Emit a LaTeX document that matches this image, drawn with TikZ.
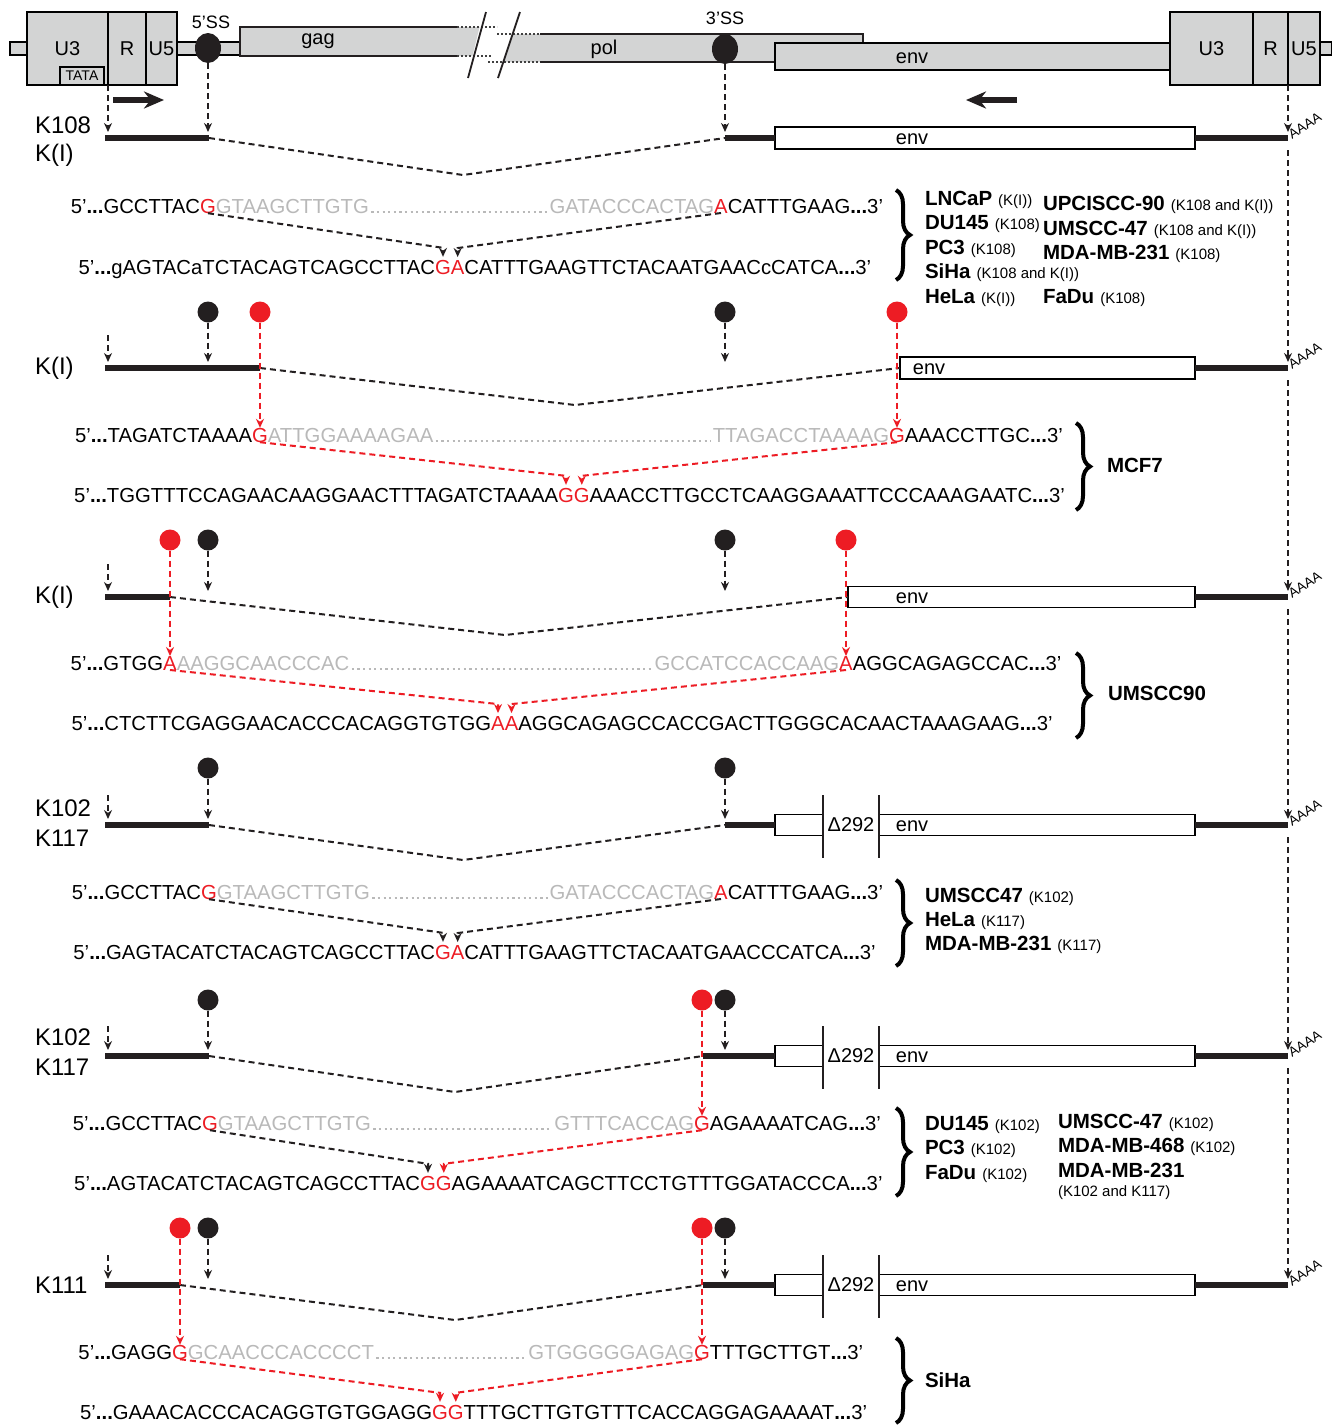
\documentclass[tikz,border=0pt]{standalone}
\usepackage{fontspec}
\setmainfont{Liberation Sans}
\usetikzlibrary{arrows.meta,calc,decorations.pathreplacing,shapes.geometric}
\definecolor{myred}{RGB}{237,28,36}
\definecolor{boxgray}{RGB}{211,212,212}
\definecolor{seqgray}{RGB}{185,185,185}
\definecolor{inkblack}{RGB}{35,31,32}
\newcommand{\myfs}[1]{\fontsize{#1}{#1}\selectfont}
\newcommand{\cellname}[2]{{\myfs{20.5}\bfseries #1}\hspace{6pt}{\myfs{15}(#2)}}
\tikzset{
  seqtxt/.style={font=\myfs{20.3}},
  redtxt/.style={text=myred},
  graytxt/.style={text=seqgray},
  seqdots/.style={draw=seqgray, line width=2.2pt, dash pattern=on 2.2pt off 3.4pt},
  gbox/.style={draw=black, line width=1.8pt, fill=boxgray, font=\myfs{20}},
  wbox/.style={draw=black, line width=1.8pt, fill=white},
  lbl/.style={font=\myfs{20}},
  klbl/.style={font=\myfs{24}, anchor=west},
  thickln/.style={line width=6.5pt, draw=inkblack},
  intron/.style={line width=2pt, draw=inkblack, dash pattern=on 6pt off 4pt},
  darr/.style={line width=2pt, draw=inkblack, dash pattern=on 6pt off 4pt, -{Stealth[length=9pt,width=8pt]}},
  rdarr/.style={darr, draw=myred},
  pinblk/.style={circle, fill=inkblack, minimum size=21pt},
  pinred/.style={circle, fill=myred, minimum size=21pt},
  ssdot/.style={ellipse, fill=inkblack, minimum width=26pt, minimum height=30pt},
  bigarr/.style={line width=5.5pt, draw=inkblack, -{Stealth[length=20pt,width=17pt]}},
  brc/.style={decorate, decoration={brace, amplitude=14pt}, line width=4pt},
  aaaa/.style={font=\myfs{13.5}, rotate=32, anchor=base west},
  dline/.style={line width=1.8pt, draw=inkblack},
  cell/.style={anchor=base west},
  dotedge/.style={line width=1.6pt, draw=black!75, dash pattern=on 1.6pt off 2.4pt}
}
% sequence building blocks
\newcommand{\sqleft}[6]{%
  \node[seqtxt,redtxt,anchor=base] (#1r1) at (#2,#3) {#5};
  \node[seqtxt,anchor=base east] (#1k1) at (#1r1.base west) {#4};
  \node[seqtxt,graytxt,anchor=base west] (#1g1) at (#1r1.base east) {#6};}
\newcommand{\sqright}[6]{%
  \node[seqtxt,redtxt,anchor=base] (#1r2) at (#2,#3) {#5};
  \node[seqtxt,graytxt,anchor=base east] (#1g2) at (#1r2.base west) {#4};
  \node[seqtxt,anchor=base west] (#1k2) at (#1r2.base east) {#6};
  \draw[seqdots] ($(#1g1.base east)+(2.5,-1.3)$) -- ($(#1g2.base west)+(-2,-1.3)$);}
\newcommand{\sqjoin}[7]{%
  \node[seqtxt,redtxt,anchor=base] (#1p) at (#2,#3) {#5};
  \node[seqtxt,redtxt,anchor=base west] (#1q) at (#1p.base east) {#6};
  \node[seqtxt,anchor=base east] (#1L) at (#1p.base west) {#4};
  \node[seqtxt,anchor=base west] (#1R) at (#1q.base east) {#7};}
% junction connector: diagonal dashed line ending in a short vertical arrow
\newcommand{\junc}[3]{%
  \draw[#1, shorten >=3pt] (#2.south) -- ($(#3.north)+(0,-12)$) -- (#3.north);}
\newcommand{\dd}{\textbf{...}}

\begin{document}
\begin{tikzpicture}[x=1pt,y=-1pt, every node/.style={inner sep=0pt, outer sep=0pt}]
\fill[white] (0,0) rectangle (1339,1425);
\useasboundingbox (0,0) rectangle (1339,1425);

% ================= genome =================
\node[gbox, minimum width=17pt, minimum height=13pt] (tbl) at (18.5,48.5) {};
\node[gbox, minimum width=63pt, minimum height=13pt] (tbm) at (208.5,48.5) {};
\node[gbox, minimum width=11pt, minimum height=13pt] (tbr) at (1326,48.5) {};
% gag
\coordinate (gagA) at (240,27); \coordinate (gagB) at (479.6,27);
\coordinate (gagC) at (472.4,56); \coordinate (gagD) at (240,56);
\fill[boxgray] (gagA) -- (gagB) -- (gagC) -- (gagD) -- cycle;
\draw[dline] (457,27) -- (gagA) -- (gagD) -- (457,56);
\draw[dotedge] (457,27) -- (497,27);
\draw[dotedge] (457,56) -- (492,56);
\node[lbl] (gagt) at (318,41) {gag};
% pol
\coordinate (polA) at (513.6,34); \coordinate (polB) at (863,34);
\coordinate (polC) at (863,62); \coordinate (polD) at (503.7,62);
\fill[boxgray] (polA) -- (polB) -- (polC) -- (polD) -- cycle;
\draw[dline] (540,34) -- (polB) -- (polC) -- (540,62);
\draw[dotedge] (497,34) -- (540,34);
\draw[dotedge] (488,62) -- (540,62);
\node[lbl] (polt) at (604,49) {pol};
% break marks
\draw[dline] (486,12) -- (468,78);
\draw[dline] (520,12) -- (498,78);
% env
\node[gbox, minimum width=395pt, minimum height=27pt] (envtop) at (972.5,56.5) {};
\node[lbl] (envtopt) at (912,58) {env};
% LTRs
\node[gbox, minimum width=81pt, minimum height=73pt] (u3a) at (67.5,48.5) {U3};
\node[gbox, minimum width=38pt, minimum height=73pt] (ra) at (127,48.5) {R};
\node[gbox, minimum width=31pt, minimum height=73pt] (u5a) at (161.5,48.5) {U5};
\node[gbox, minimum width=44pt, minimum height=18pt, font=\myfs{14}] (tata) at (82,76) {TATA};
\node[gbox, minimum width=83pt, minimum height=73pt] (u3b) at (1211.5,48.5) {U3};
\node[gbox, minimum width=35pt, minimum height=73pt] (rb) at (1270.5,48.5) {R};
\node[gbox, minimum width=32pt, minimum height=73pt] (u5b) at (1304,48.5) {U5};
% splice sites
\node[ssdot] (ss5) at (208,48) {};
\node[ssdot] (ss3) at (725,49) {};
\node[font=\myfs{18}] (ss5t) at (211,22) {5’SS};
\node[font=\myfs{18}] (ss3t) at (725,18) {3’SS};
% transcription arrows
\coordinate (ar1s) at (113,100); \coordinate (ar1e) at (164,100);
\coordinate (ar2s) at (1017,100); \coordinate (ar2e) at (966,100);
\draw[bigarr] (ar1s) -- (ar1e);
\draw[bigarr] (ar2s) -- (ar2e);

% ================= row 1 =================
\coordinate (r1a) at (105,138); \coordinate (r1b) at (209,138);
\coordinate (r1v) at (463,175); \coordinate (r1c) at (725,138);
\coordinate (r1e) at (1288,138);
\node[wbox, minimum width=420pt, minimum height=22pt] (env1) at (985,138) {};
\node[lbl] (env1t) at (912,139) {env};
\draw[thickln] (r1a) -- (r1b);
\draw[intron] (r1b) -- (r1v) -- (r1c);
\draw[thickln] (r1c) -- (env1.west);
\draw[thickln] (env1.east) -- (r1e);
\node[aaaa] (aa1) at ($(r1e)+(4,1)$) {AAAA};
\draw[darr] (u3a.south east) -- ($(u3a.south east |- r1a)+(0,-6)$);
\draw[darr] (ss5.south) -- ($(ss5 |- r1a)+(0,-6)$);
\draw[darr] (ss3.south) -- ($(ss3 |- r1a)+(0,-6)$);
\draw[darr] (rb.south east) -- ($(r1e)+(0,-6)$);
\node[klbl] (k1a) at (35,125) {K108};
\node[klbl] (k1b) at (35,155) {K(I)};

\sqleft{s1a}{208}{213}{5’\dd GCCTTAC}{G}{GTAAGCTTGTG}
\sqright{s1a}{721}{213}{GATACCCACTAG}{A}{CATTTGAAG\dd 3’}
\sqjoin{s1b}{443}{274}{5’\dd gAGTACaTCTACAGTCAGCCTTAC}{G}{A}{CATTTGAAGTTCTACAATGAACcCATCA\dd 3’}
\junc{darr}{s1ar1}{s1bp}
\junc{darr}{s1ar2}{s1bq}
\coordinate (br1a) at (896,190); \coordinate (br1b) at (896,280);
\draw[brc] (br1a) -- (br1b);
\node[cell] (c11) at (925,205) {\cellname{LNCaP}{K(I)}};
\node[cell] (c12) at (925,229) {\cellname{DU145}{K108}};
\node[cell] (c13) at (925,254) {\cellname{PC3}{K108}};
\node[cell] (c14) at (925,278) {\cellname{SiHa}{K108 and K(I)}};
\node[cell] (c15) at (925,303) {\cellname{HeLa}{K(I)}};
\node[cell] (c16) at (1043,210) {\cellname{UPCISCC-90}{K108 and K(I)}};
\node[cell] (c17) at (1043,235) {\cellname{UMSCC-47}{K108 and K(I)}};
\node[cell] (c18) at (1043,259) {\cellname{MDA-MB-231}{K108}};
\node[cell] (c19) at (1043,303) {\cellname{FaDu}{K108}};

% ================= row 2 =================
\coordinate (r2a) at (105,368); \coordinate (r2b) at (260,368);
\coordinate (r2v) at (575,405); \coordinate (r2e) at (1288,368);
\node[wbox, minimum width=295pt, minimum height=22pt] (env2) at (1047.5,368) {};
\node[lbl] (env2t) at (929,369) {env};
\draw[thickln] (r2a) -- (r2b);
\draw[intron] (r2b) -- (r2v) -- (env2.west);
\draw[thickln] (env2.east) -- (r2e);
\node[aaaa] (aa2) at ($(r2e)+(4,1)$) {AAAA};
\draw[darr] ($(r1e)+(0,12)$) -- ($(r2e)+(0,-6)$);
\draw[darr] ($(r2a)+(3,-33)$) -- ($(r2a)+(3,-6)$);
\node[klbl] (k2) at (35,368) {K(I)};
\sqleft{s2a}{260}{442}{5’\dd TAGATCTAAAA}{G}{ATTGGAAAAGAA}
\sqright{s2a}{897}{442}{TTAGACCTAAAAG}{G}{AAACCTTGC\dd 3’}
\sqjoin{s2b}{566}{502}{5’\dd TGGTTTCCAGAACAAGGAACTTTAGATCTAAAA}{G}{G}{AAACCTTGCCTCAAGGAAATTCCCAAAGAATC\dd 3’}
\node[pinblk] (p2a) at (208,312) {};
\node[pinred] (p2b) at (260,312) {};
\node[pinblk] (p2c) at (725,312) {};
\node[pinred] (p2d) at (897,312) {};
\draw[darr] (p2a.south) -- ($(p2a |- r2a)+(0,-6)$);
\draw[darr] (p2c.south) -- ($(p2c |- r2a)+(0,-6)$);
\draw[rdarr] (p2b.south) -- (s2ar1.north);
\draw[rdarr] (p2d.south) -- (s2ar2.north);
\junc{rdarr}{s2ar1}{s2bp}
\junc{rdarr}{s2ar2}{s2bq}
\coordinate (br2a) at (1076,423); \coordinate (br2b) at (1076,510);
\draw[brc] (br2a) -- (br2b);
\node[cell, font=\myfs{20.5}\bfseries] (c21) at (1107,472) {MCF7};

% ================= row 3 =================
\coordinate (r3a) at (105,597); \coordinate (r3b) at (170,597);
\coordinate (r3v) at (505,635); \coordinate (r3e) at (1288,597);
\node[wbox, minimum width=347pt, minimum height=21pt] (env3) at (1021.5,597) {};
\node[lbl] (env3t) at (912,598) {env};
\draw[thickln] (r3a) -- (r3b);
\draw[intron] (r3b) -- (r3v) -- (env3.west);
\draw[thickln] (env3.east) -- (r3e);
\node[aaaa] (aa3) at ($(r3e)+(4,1)$) {AAAA};
\draw[darr] ($(r2e)+(0,12)$) -- ($(r3e)+(0,-6)$);
\draw[darr] ($(r3a)+(3,-33)$) -- ($(r3a)+(3,-6)$);
\node[klbl] (k3) at (35,597) {K(I)};
\sqleft{s3a}{170}{670}{5’\dd GTGG}{A}{AAGGCAACCCAC}
\sqright{s3a}{846}{670}{GCCATCCACCAAG}{A}{AGGCAGAGCCAC\dd 3’}
\sqjoin{s3b}{498}{730}{5’\dd CTCTTCGAGGAACACCCACAGGTGTGG}{A}{A}{AGGCAGAGCCACCGACTTGGGCACAACTAAAGAAG\dd 3’}
\node[pinred] (p3a) at (170,540) {};
\node[pinblk] (p3b) at (208,540) {};
\node[pinblk] (p3c) at (725,540) {};
\node[pinred] (p3d) at (846,540) {};
\draw[darr] (p3b.south) -- ($(p3b |- r3a)+(0,-6)$);
\draw[darr] (p3c.south) -- ($(p3c |- r3a)+(0,-6)$);
\draw[rdarr] (p3a.south) -- (s3ar1.north);
\draw[rdarr] (p3d.south) -- (s3ar2.north);
\junc{rdarr}{s3ar1}{s3bp}
\junc{rdarr}{s3ar2}{s3bq}
\coordinate (br3a) at (1076,653); \coordinate (br3b) at (1076,738);
\draw[brc] (br3a) -- (br3b);
\node[cell, font=\myfs{20.5}\bfseries] (c31) at (1108,700) {UMSCC90};

% ================= row 4 =================
\coordinate (r4a) at (105,825); \coordinate (r4b) at (209,825);
\coordinate (r4v) at (463,860); \coordinate (r4c) at (725,825);
\coordinate (r4e) at (1288,825);
\node[wbox, minimum width=48pt, minimum height=21pt] (sb4) at (799,825) {};
\node[wbox, minimum width=316pt, minimum height=21pt] (env4) at (1037,825) {};
\node[lbl] (env4t) at (912,826) {env};
\node[lbl] (del4) at (851,825) {Δ292};
\draw[dline] ($(sb4.east)+(0,-30)$) -- ($(sb4.east)+(0,33)$);
\draw[dline] ($(env4.west)+(0,-30)$) -- ($(env4.west)+(0,33)$);
\draw[thickln] (r4a) -- (r4b);
\draw[intron] (r4b) -- (r4v) -- (r4c);
\draw[thickln] (r4c) -- (sb4.west);
\draw[thickln] (env4.east) -- (r4e);
\node[aaaa] (aa4) at ($(r4e)+(4,1)$) {AAAA};
\draw[darr] ($(r3e)+(0,12)$) -- ($(r4e)+(0,-6)$);
\draw[darr] ($(r4a)+(3,-30)$) -- ($(r4a)+(3,-6)$);
\node[klbl] (k4a) at (35,808) {K102};
\node[klbl] (k4b) at (35,838) {K117};
\sqleft{s4a}{209}{899}{5’\dd GCCTTAC}{G}{GTAAGCTTGTG}
\sqright{s4a}{721}{899}{GATACCCACTAG}{A}{CATTTGAAG\dd 3’}
\sqjoin{s4b}{443}{959}{5’\dd GAGTACATCTACAGTCAGCCTTAC}{G}{A}{CATTTGAAGTTCTACAATGAACCCATCA\dd 3’}
\node[pinblk] (p4a) at (208,768) {};
\node[pinblk] (p4b) at (725,768) {};
\draw[darr] (p4a.south) -- ($(p4a |- r4a)+(0,-6)$);
\draw[darr] (p4b.south) -- ($(p4b |- r4a)+(0,-6)$);
\junc{darr}{s4ar1}{s4bp}
\junc{darr}{s4ar2}{s4bq}
\coordinate (br4a) at (896,880); \coordinate (br4b) at (896,966);
\draw[brc] (br4a) -- (br4b);
\node[cell] (c41) at (925,902) {\cellname{UMSCC47}{K102}};
\node[cell] (c42) at (925,926) {\cellname{HeLa}{K117}};
\node[cell] (c43) at (925,950) {\cellname{MDA-MB-231}{K117}};

% ================= row 5 =================
\coordinate (r5a) at (105,1056); \coordinate (r5b) at (209,1056);
\coordinate (r5v) at (455,1092); \coordinate (r5c) at (703,1056);
\coordinate (r5e) at (1288,1056);
\node[wbox, minimum width=48pt, minimum height=21pt] (sb5) at (799,1056) {};
\node[wbox, minimum width=316pt, minimum height=21pt] (env5) at (1037,1056) {};
\node[lbl] (env5t) at (912,1057) {env};
\node[lbl] (del5) at (851,1056) {Δ292};
\draw[dline] ($(sb5.east)+(0,-30)$) -- ($(sb5.east)+(0,33)$);
\draw[dline] ($(env5.west)+(0,-30)$) -- ($(env5.west)+(0,33)$);
\draw[thickln] (r5a) -- (r5b);
\draw[intron] (r5b) -- (r5v) -- (r5c);
\draw[thickln] (r5c) -- (sb5.west);
\draw[thickln] (env5.east) -- (r5e);
\node[aaaa] (aa5) at ($(r5e)+(4,1)$) {AAAA};
\draw[darr] ($(r4e)+(0,12)$) -- ($(r5e)+(0,-6)$);
\draw[darr] ($(r5a)+(3,-30)$) -- ($(r5a)+(3,-6)$);
\node[klbl] (k5a) at (35,1037) {K102};
\node[klbl] (k5b) at (35,1067) {K117};
\sqleft{s5a}{210}{1130}{5’\dd GCCTTAC}{G}{GTAAGCTTGTG}
\sqright{s5a}{702}{1130}{GTTTCACCAG}{G}{AGAAAATCAG\dd 3’}
\sqjoin{s5b}{428}{1190}{5’\dd AGTACATCTACAGTCAGCCTTAC}{G}{G}{AGAAAATCAGCTTCCTGTTTGGATACCCA\dd 3’}
\node[pinblk] (p5a) at (208,1000) {};
\node[pinred] (p5b) at (702,1000) {};
\node[pinblk] (p5c) at (725,1000) {};
\draw[darr] (p5a.south) -- ($(p5a |- r5a)+(0,-6)$);
\draw[darr] (p5c.south) -- ($(p5c |- r5a)+(0,-6)$);
\draw[rdarr] (p5b.south) -- (s5ar2.north);
\junc{darr}{s5ar1}{s5bp}
\junc{rdarr}{s5ar2}{s5bq}
\coordinate (br5a) at (896,1108); \coordinate (br5b) at (896,1196);
\draw[brc] (br5a) -- (br5b);
\node[cell] (c51) at (925,1130) {\cellname{DU145}{K102}};
\node[cell] (c52) at (925,1154) {\cellname{PC3}{K102}};
\node[cell] (c53) at (925,1179) {\cellname{FaDu}{K102}};
\node[cell] (c54) at (1058,1128) {\cellname{UMSCC-47}{K102}};
\node[cell] (c55) at (1058,1152) {\cellname{MDA-MB-468}{K102}};
\node[cell, font=\myfs{20.5}\bfseries] (c56) at (1058,1177) {MDA-MB-231};
\node[cell, font=\myfs{15}] (c57) at (1058,1196) {(K102 and K117)};

% ================= row 6 =================
\coordinate (r6a) at (105,1285); \coordinate (r6b) at (180,1285);
\coordinate (r6v) at (455,1320); \coordinate (r6c) at (703,1285);
\coordinate (r6e) at (1288,1285);
\node[wbox, minimum width=48pt, minimum height=21pt] (sb6) at (799,1285) {};
\node[wbox, minimum width=316pt, minimum height=21pt] (env6) at (1037,1285) {};
\node[lbl] (env6t) at (912,1286) {env};
\node[lbl] (del6) at (851,1285) {Δ292};
\draw[dline] ($(sb6.east)+(0,-30)$) -- ($(sb6.east)+(0,33)$);
\draw[dline] ($(env6.west)+(0,-30)$) -- ($(env6.west)+(0,33)$);
\draw[thickln] (r6a) -- (r6b);
\draw[intron] (r6b) -- (r6v) -- (r6c);
\draw[thickln] (r6c) -- (sb6.west);
\draw[thickln] (env6.east) -- (r6e);
\node[aaaa] (aa6) at ($(r6e)+(4,1)$) {AAAA};
\draw[darr] ($(r5e)+(0,12)$) -- ($(r6e)+(0,-6)$);
\draw[darr] ($(r6a)+(3,-30)$) -- ($(r6a)+(3,-6)$);
\node[klbl] (k6) at (35,1285) {K111};
\sqleft{s6a}{180}{1359}{5’\dd GAGG}{G}{GCAACCCACCCCT}
\sqright{s6a}{702}{1359}{GTGGGGGAGAG}{G}{TTTGCTTGT\dd 3’}
\sqjoin{s6b}{440}{1419}{5’\dd GAAACACCCACAGGTGTGGAGG}{G}{G}{TTTGCTTGTGTTTCACCAGGAGAAAAT\dd 3’}
\node[pinred] (p6a) at (180,1228) {};
\node[pinblk] (p6b) at (208,1228) {};
\node[pinred] (p6c) at (702,1228) {};
\node[pinblk] (p6d) at (725,1228) {};
\draw[darr] (p6b.south) -- ($(p6b |- r6a)+(0,-6)$);
\draw[darr] (p6d.south) -- ($(p6d |- r6a)+(0,-6)$);
\draw[rdarr] (p6a.south) -- (s6ar1.north);
\draw[rdarr] (p6c.south) -- (s6ar2.north);
\junc{rdarr}{s6ar1}{s6bp}
\junc{rdarr}{s6ar2}{s6bq}
\coordinate (br6a) at (896,1338); \coordinate (br6b) at (896,1423);
\draw[brc] (br6a) -- (br6b);
\node[cell, font=\myfs{20.5}\bfseries] (c61) at (925,1387) {SiHa};
\end{tikzpicture}
\end{document}
